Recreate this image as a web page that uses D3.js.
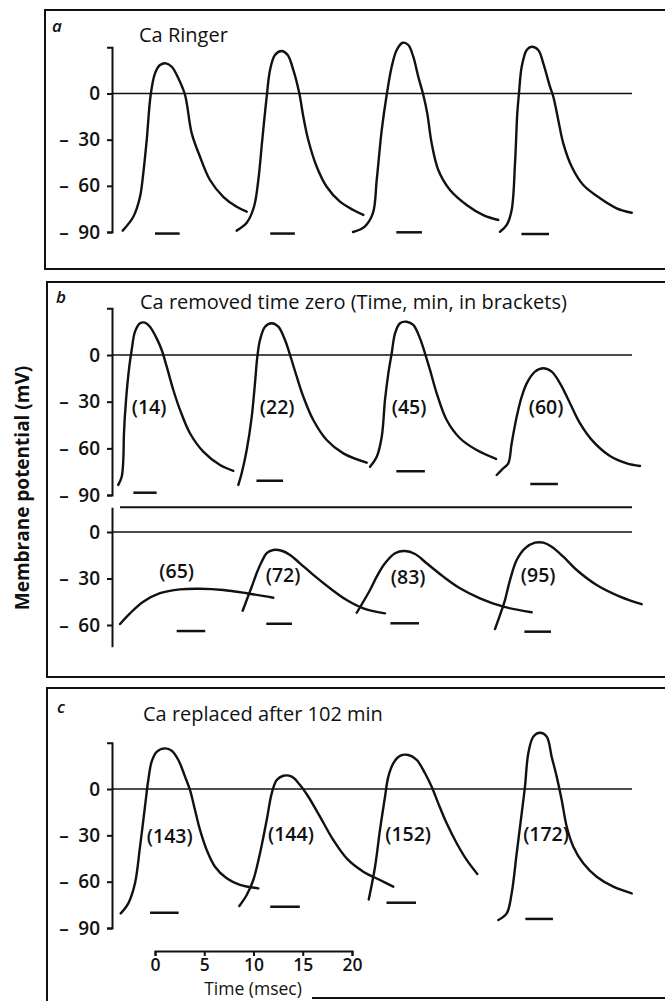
<!DOCTYPE html>
<html>
<head>
<meta charset="utf-8">
<script src="https://cdn.jsdelivr.net/npm/d3@7"></script>
<style>
  body { margin: 0; background: #fff; }
  svg { display: block; }
  text { font-family: "Open Sans", "DejaVu Sans", sans-serif; fill: #111; }
</style>
</head>
<body>
<script>
// ---- data: traces as [time (ms), membrane potential (mV)] ----

// a: Ca Ringer
const ringer1 = [[-3.28,-89.1],[-2.2,-80.1],[-1.52,-67.1],[-1.19,-51.9],[-0.84,-30.2],[-0.44,-1.0],[0,13.1],[0.51,18.5],[1.12,19.6],[1.7,17.4],[2.37,9.9],[3.05,-1.0],[3.73,-25.9],[4.57,-41.1],[5.58,-56.2],[6.93,-67.1],[8.29,-73.6],[9.31,-76.8]];
const ringer2 = [[8.29,-89.1],[9.31,-84.0],[10.05,-73.6],[10.49,-56.2],[10.89,-30.2],[11.34,-2.1],[11.68,15.3],[12.18,25.0],[12.86,27.6],[13.47,25.0],[14.04,15.3],[14.65,0.1],[15.06,-15.1],[15.56,-30.2],[16.42,-47.6],[17.43,-60.6],[18.78,-70.3],[20.13,-75.7],[21.15,-78.9]];
const ringer3 = [[20.1,-90.0],[21.29,-86.5],[22.13,-77.6],[22.51,-56.2],[23.02,-23.7],[23.52,-1.0],[24.03,17.4],[24.54,28.3],[25.15,33.0],[25.72,31.5],[26.22,23.9],[26.73,10.9],[27.24,-1.0],[27.64,-12.9],[28.09,-32.4],[28.76,-49.7],[29.95,-62.7],[31.64,-72.4],[33.33,-79.0],[34.85,-82.2]];
const ringer4 = [[35.03,-89.8],[35.71,-85.4],[36.21,-75.7],[36.55,-45.4],[36.78,-12.9],[36.95,0.1],[37.23,17.4],[37.74,28.3],[38.24,30.4],[38.91,28.3],[39.42,19.6],[40.1,4.4],[40.44,-2.1],[40.94,-17.2],[41.45,-32.4],[42.31,-47.6],[43.48,-59.5],[45.18,-68.1],[46.87,-74.6],[48.4,-77.5]];
// stimulus bars: [start ms, end ms, mV]
const ringerStim = [[0,2.5,-91],[11.7,14.2,-91],[24.5,27.1,-90.2],[37.2,40.0,-91.3]];

// b: Ca removed, upper row (14, 22, 45, 60 min)
const caFree14 = [[-3.73,-83.5],[-3.38,-78.2],[-3.22,-67.5],[-3.15,-50.3],[-2.94,-28.9],[-2.61,-7.5],[-2.37,3.2],[-2.03,15.0],[-1.52,20.4],[-1.02,20.8],[-0.51,18.2],[0.17,10.7],[0.68,3.2],[1.19,-7.5],[1.86,-22.5],[2.54,-35.3],[3.55,-50.3],[4.9,-62.1],[6.6,-70.7],[7.95,-74.4]];
const caFree22 = [[8.46,-83.5],[8.8,-76.0],[9.31,-61.1],[9.82,-39.7],[10.15,-18.2],[10.39,-1.1],[10.66,9.6],[11.17,18.2],[11.85,20.4],[12.52,18.2],[13.2,9.6],[13.71,0],[14.39,-13.9],[15.06,-26.8],[16.07,-41.8],[17.43,-54.6],[19.12,-63.2],[21.49,-69.2]];
const caFree45 = [[21.83,-71.8],[22.51,-65.4],[23.02,-52.5],[23.35,-28.9],[23.69,-11.8],[24.03,1.1],[24.37,13.9],[24.87,20.4],[25.55,21.4],[26.22,19.3],[26.9,10.7],[27.41,1.1],[27.92,-9.6],[28.6,-24.6],[29.61,-41.8],[30.96,-53.5],[32.66,-61.1],[34.62,-66.8]];
const caFree60 = [[34.69,-77.1],[35.36,-72.8],[35.87,-69.6],[36.21,-56.7],[36.72,-39.7],[37.23,-26.8],[37.74,-18.2],[38.58,-10.7],[39.42,-8.5],[40.27,-10.7],[41.12,-18.2],[42.13,-31.0],[43.15,-43.9],[44.5,-55.7],[46.19,-64.9],[47.89,-69.6],[49.24,-71.3]];
const caFreeStimUpper = [[-2.2,0.17,-88.5],[10.3,13.0,-80.8],[24.5,27.4,-74.7],[38.1,40.9,-82.9]];

// b: Ca removed, lower row (65, 72, 83, 95 min)
const caFree65 = [[-3.55,-59.4],[-2.54,-52.5],[-1.19,-45.0],[0.51,-39.5],[2.54,-37.0],[4.57,-36.6],[6.93,-37.4],[9.31,-39.5],[12.01,-42.4]];
const caFree72 = [[8.9,-50.8],[9.31,-43.9],[9.82,-35.3],[10.32,-26.6],[10.83,-19.2],[11.34,-13.7],[12.01,-11.6],[12.86,-12.1],[13.71,-14.8],[14.72,-20.2],[16.07,-27.7],[17.77,-36.3],[19.46,-43.9],[21.15,-49.2],[23.35,-52.5]];
const caFree83 = [[20.48,-52.1],[21.83,-37.4],[22.51,-28.8],[23.35,-20.2],[24.37,-13.7],[25.38,-12.3],[26.4,-14.2],[27.58,-20.2],[29.27,-28.8],[30.96,-36.3],[32.99,-42.8],[35.36,-48.2],[38.24,-51.8]];
const caFree95 = [[34.52,-62.6],[35.03,-53.5],[35.53,-43.9],[36.04,-31.0],[36.72,-18.1],[37.56,-10.5],[38.58,-6.9],[39.42,-6.9],[40.27,-9.5],[41.45,-15.9],[42.81,-24.5],[44.84,-34.2],[47.21,-41.7],[49.41,-46.6]];
const caFreeStimLower = [[2.2,5.1,-63.9],[11.3,13.9,-59.2],[23.9,26.8,-58.9],[37.5,40.2,-64.3]];

// c: Ca replaced (143, 144, 152, 172 min)
const caBack143 = [[-3.48,-80.5],[-2.71,-74.0],[-2.03,-61.0],[-1.52,-37.3],[-1.02,-11.5],[-0.68,5.8],[-0.34,17.7],[0.17,24.1],[1.02,26.3],[1.7,24.8],[2.37,18.8],[3.05,8.0],[3.55,-0.6],[4.06,-13.6],[4.57,-26.5],[5.25,-39.5],[6.09,-50.3],[7.28,-57.8],[8.63,-62.1],[10.49,-64.3]];
const caBack144 = [[8.56,-75.7],[9.31,-68.6],[9.98,-58.9],[10.66,-41.6],[11.34,-20.1],[11.85,-2.8],[12.36,5.8],[13.03,8.6],[13.88,8.0],[14.72,2.6],[15.57,-5.0],[16.75,-17.9],[18.1,-33.0],[19.46,-44.9],[21.15,-53.5],[22.84,-58.9],[24.19,-63.2]];
const caBack152 = [[21.7,-71.5],[22.34,-50.3],[22.84,-26.5],[23.35,-5.0],[23.69,8.0],[24.19,16.6],[24.87,21.4],[25.72,22.0],[26.57,18.8],[27.41,10.2],[28.09,1.5],[28.76,-9.3],[29.61,-22.2],[30.63,-35.1],[31.64,-45.9],[32.72,-55.0]];
const caBack172 = [[34.85,-84.8],[35.71,-80.5],[36.21,-67.5],[36.72,-41.6],[37.23,-15.7],[37.56,1.5],[37.9,23.1],[38.41,33.9],[39.09,36.4],[39.77,33.9],[40.27,20.9],[40.78,8.0],[41.29,-7.1],[41.8,-24.4],[42.47,-37.3],[43.48,-48.1],[44.84,-56.8],[46.53,-63.2],[48.4,-67.5]];
const caBackStim = [[-0.5,2.4,-80.1],[11.7,14.7,-76.2],[23.5,26.5,-73.6],[37.6,40.4,-84.1]];

// minutes after Ca removal, shown in brackets
const minutesUpper = [14, 22, 45, 60];
const minutesLower = [65, 72, 83, 95];
const minutesC = [143, 144, 152, 172];

// tick values
const mvTicks = [0, -30, -60, -90];
const mvTicksLower = [0, -30, -60];
const msTicks = [0, 5, 10, 15, 20];

// ---- layout ----
const W = 665, H = 1001;
const AXIS_X = 112, ZERO_END = 632;

// label anchors [ms, mV] for the bracketed times
const upperLabelAt = [[-0.6,-33],[12.4,-33],[25.8,-33],[39.7,-33]];
const lowerLabelAt = [[2.2,-25],[13.0,-27.2],[25.7,-28.4],[38.9,-27.7]];
const cLabelAt = [[1.5,-29.8],[13.8,-28.5],[25.7,-29.1],[39.7,-29.1]];

const svg = d3.select('body').append('svg')
  .attr('width', W)
  .attr('height', H);

// one time scale for every panel (20 ms = 197 px)
const x = d3.scaleLinear().domain([0, 20]).range([155, 352]);

function mvScale(zeroY, pxPerMv, lo, hi) {
  return d3.scaleLinear().domain([lo, hi]).range([zeroY - lo * pxPerMv, zeroY - hi * pxPerMv]);
}

function fmtMv(v) {
  return v === 0 ? '0' : '\u2013\u2002' + Math.abs(v);
}

function drawMvAxis(y, ticks, outer) {
  const axis = d3.axisLeft(y).tickValues(ticks).tickSize(5).tickSizeOuter(outer)
    .tickPadding(7).tickFormat(fmtMv);
  const g = svg.append('g')
    .attr('transform', 'translate(' + AXIS_X + ',0)')
    .call(axis);
  g.attr('font-family', null).attr('font-size', null);
  g.select('.domain').attr('stroke', '#111').attr('stroke-width', 2);
  g.selectAll('.tick line').attr('stroke', '#111').attr('stroke-width', 2);
  g.selectAll('.tick text').attr('fill', '#111').style('font-size', '19px').style('font-weight', 600);
  return g;
}

function drawZero(y) {
  svg.append('line')
    .attr('x1', AXIS_X).attr('x2', ZERO_END)
    .attr('y1', y(0)).attr('y2', y(0))
    .attr('stroke', '#111').attr('stroke-width', 1.7);
}

function drawTraces(y, traces) {
  const line = d3.line()
    .x(d => x(d[0]))
    .y(d => y(d[1]))
    .curve(d3.curveCatmullRom.alpha(0.5));
  svg.append('g').selectAll('path')
    .data(traces)
    .join('path')
    .attr('d', line)
    .attr('fill', 'none')
    .attr('stroke', '#111')
    .attr('stroke-width', 2.4)
    .attr('stroke-linecap', 'round');
}

function drawStim(y, bars) {
  svg.append('g').selectAll('line')
    .data(bars)
    .join('line')
    .attr('x1', d => x(d[0])).attr('x2', d => x(d[1]))
    .attr('y1', d => y(d[2])).attr('y2', d => y(d[2]))
    .attr('stroke', '#111').attr('stroke-width', 2.5);
}

function drawMinutes(y, minutes, anchors) {
  svg.append('g').selectAll('text')
    .data(minutes)
    .join('text')
    .attr('x', (d, i) => x(anchors[i][0]))
    .attr('y', (d, i) => y(anchors[i][1]))
    .attr('text-anchor', 'middle')
    .attr('dominant-baseline', 'central')
    .style('font-size', '19.5px')
    .style('font-weight', 600)
    .text(d => '(' + d + ')');
}

function panelBox(top, bottom, left) {
  svg.append('path')
    .attr('d', 'M' + (W + 10) + ',' + top + 'H' + left + 'V' + bottom + 'H' + (W + 10))
    .attr('fill', 'none').attr('stroke', '#111').attr('stroke-width', 2);
}

function panelText(letter, lx, ly, title, tx, ty) {
  svg.append('text').attr('x', lx).attr('y', ly)
    .style('font-size', '17px').style('font-style', 'italic').style('font-weight', 600)
    .text(letter);
  svg.append('text').attr('x', tx).attr('y', ty)
    .style('font-size', '20px').style('font-weight', 500)
    .text(title);
}

// ---- panel a ----
panelBox(10, 269, 45);
panelText('a', 52, 32, 'Ca Ringer', 139, 42);
const yA = mvScale(93.5, 1.539, -90, 30);
drawZero(yA);
drawMvAxis(yA, mvTicks, 5);
drawTraces(yA, [ringer1, ringer2, ringer3, ringer4]);
drawStim(yA, ringerStim);

// ---- panel b ----
panelBox(282, 677, 47);
panelText('b', 56, 303, 'Ca removed time zero (Time, min, in brackets)', 140, 309);
const yB1 = mvScale(355, 1.556, -90, 30);
drawZero(yB1);
drawMvAxis(yB1, mvTicks, 5);
drawTraces(yB1, [caFree14, caFree22, caFree45, caFree60]);
drawStim(yB1, caFreeStimUpper);
drawMinutes(yB1, minutesUpper, upperLabelAt);

const yB2 = mvScale(532, 1.55, -74, 16);
svg.append('line')
  .attr('x1', 120).attr('x2', ZERO_END)
  .attr('y1', yB2(16)).attr('y2', yB2(16))
  .attr('stroke', '#111').attr('stroke-width', 2);
drawZero(yB2);
drawMvAxis(yB2, mvTicksLower, 0);
drawTraces(yB2, [caFree65, caFree72, caFree83, caFree95]);
drawStim(yB2, caFreeStimLower);
drawMinutes(yB2, minutesLower, lowerLabelAt);

// ---- panel c ----
panelBox(688, 1040, 47);
svg.append('line')
  .attr('x1', 312).attr('x2', W + 10)
  .attr('y1', 998).attr('y2', 998)
  .attr('stroke', '#111').attr('stroke-width', 2);
panelText('c', 57, 713, 'Ca replaced after 102 min', 143, 721);
const yC = mvScale(789, 1.545, -90, 30);
drawZero(yC);
drawMvAxis(yC, mvTicks, 5);
drawTraces(yC, [caBack143, caBack144, caBack152, caBack172]);
drawStim(yC, caBackStim);
drawMinutes(yC, minutesC, cLabelAt);

// time calibration bar
const timeAxis = d3.axisBottom(x).tickValues(msTicks).tickSize(5).tickSizeOuter(5).tickPadding(3);
const tg = svg.append('g')
  .attr('transform', 'translate(0,951)')
  .call(timeAxis);
tg.attr('font-family', null).attr('font-size', null);
tg.select('.domain').attr('stroke', '#111').attr('stroke-width', 2);
tg.selectAll('.tick line').attr('stroke', '#111').attr('stroke-width', 2);
tg.selectAll('.tick text').attr('fill', '#111').style('font-size', '17.5px').style('font-weight', 600);

svg.append('text')
  .attr('x', 253).attr('y', 995)
  .attr('text-anchor', 'middle')
  .style('font-size', '17.5px').style('font-weight', 500)
  .text('Time (msec)');

// shared y title
svg.append('text')
  .attr('transform', 'translate(29,488) rotate(-90)')
  .attr('text-anchor', 'middle')
  .style('font-size', '19px').style('font-weight', 700)
  .text('Membrane potential (mV)');
</script>
</body>
</html>
